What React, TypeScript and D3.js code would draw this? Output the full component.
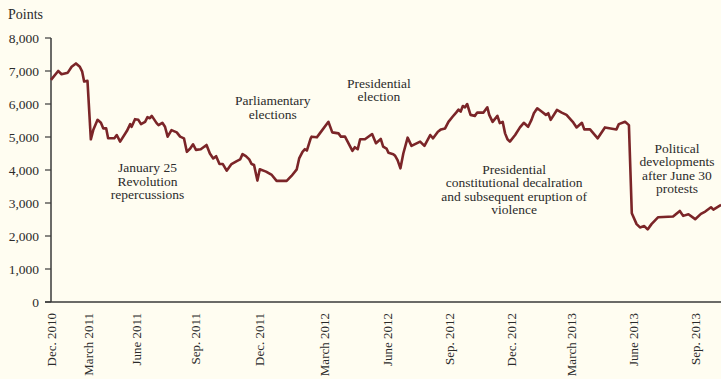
import React from "react";
import * as d3 from "d3";

// Weekly trading index (weeks since Dec. 2010, exchange closure removed) and EGX30 points
const weeks = [
  0, 1.5, 2.2, 3.5, 4.3, 5.2, 6.0, 6.5, 6.9, 7.6, 8.3, 8.8, 9.7, 10.4, 10.9, 11.5, 11.9, 13.2, 13.7, 14.4,
  15.8, 16.5, 16.8, 17.5, 18.2, 18.75, 19.6, 20.1, 20.6, 21.0, 22.0, 22.4, 23.2, 23.75, 24.3, 25.1, 26.2, 26.9,
  27.7, 28.3, 29.0, 29.6, 30.2, 31.2, 32.4, 33.1, 33.8, 34.4, 35.1, 35.8, 36.6, 37.6, 38.7, 39.4, 39.9, 40.6,
  41.3, 41.8, 42.3, 43.0, 43.5, 44.8, 46.0, 47.0, 49.1, 50.1, 51.2, 51.7, 52.4, 52.9, 53.3, 54.1, 54.3, 55.4,
  56.0, 57.8, 58.6, 59.9, 60.4, 61.25, 62.8, 63.3, 63.9, 64.4, 65.4, 66.9, 67.7, 68.7, 69.2, 69.9, 70.3, 71.3,
  71.7, 72.2, 72.8, 73.4, 74.3, 75.1, 76.9, 77.8, 79.0, 79.6, 80.6, 81.25, 82.1, 82.8, 83.7, 84.4, 84.9, 85.35,
  85.8, 86.25, 86.7, 87.4, 88.3, 88.8, 90.1, 90.9, 91.3, 92.0, 93.0, 93.5, 94.1, 94.6, 95.1, 95.6, 96.7, 97.7,
  98.5, 99.4, 100.1, 100.6, 101.3, 102.2, 103.1, 103.6, 104.1, 105.4, 106.4, 107.4, 108.7, 109.5, 110.6, 111.1,
  112.3, 113.9, 115.4, 117.8, 118.3, 119.6, 120.4, 121.0, 122.0, 122.7, 123.6, 124.3, 125.1, 126.5, 129.6, 131.0,
  131.7, 132.8, 134.2, 135.4, 136.3, 137.5, 138.0, 139.0, 139.6,
];
const points = [
  6730, 7000, 6900, 6950, 7130, 7230, 7130, 6980, 6680, 6700, 4930, 5210, 5520, 5430, 5260, 5260, 4960, 4960, 5060, 4860,
  5180, 5390, 5310, 5540, 5520, 5390, 5460, 5600, 5570, 5640, 5420, 5360, 5430, 5310, 5010, 5210, 5140, 5010,
  4960, 4550, 4650, 4780, 4610, 4630, 4760, 4500, 4350, 4420, 4180, 4180, 3980, 4180, 4270, 4320, 4480, 4420,
  4320, 4180, 4150, 3680, 4020, 3950, 3850, 3670, 3670, 3820, 4020, 4350, 4550, 4630, 4590, 4960, 5010, 4990,
  5110, 5460, 5140, 5110, 5010, 5010, 4580, 4690, 4630, 4930, 4930, 5090, 4810, 4940, 4710, 4650, 4520, 4480,
  4430, 4300, 4050, 4500, 4980, 4730, 4860, 4730, 5060, 4960, 5160, 5230, 5260, 5460, 5620, 5740, 5830, 5770,
  5940, 5900, 6000, 5670, 5640, 5740, 5740, 5900, 5670, 5460, 5640, 5420, 5460, 5110, 4930, 4860, 5060, 5290,
  5430, 5310, 5520, 5720, 5870, 5770, 5670, 5720, 5520, 5820, 5740, 5670, 5460, 5290, 5430, 5230,
  5230, 4960, 5290, 5230, 5390, 5460, 5360, 2690, 2360, 2260, 2300, 2200, 2360, 2570, 2590, 2760,
  2610, 2660, 2510, 2670, 2740, 2870, 2800, 2890, 2940,
];

const tickWeeks = [0, 7.7, 17.8, 30, 43.5, 56.9, 70, 83, 96, 108.5, 121.3, 134.2];
const tickLabels = [
  "Dec. 2010", "March 2011", "June 2011", "Sep. 2011", "Dec. 2011", "March 2012",
  "June 2012", "Sep. 2012", "Dec. 2012", "March 2013", "June 2013", "Sep. 2013",
];
const yTicks = [0, 1000, 2000, 3000, 4000, 5000, 6000, 7000, 8000];

const annotations = [
  { week: 20.1, value: 3930, lines: ["January 25", "Revolution", "repercussions"] },
  { week: 46.2, value: 5960, lines: ["Parliamentary", "elections"] },
  { week: 68.3, value: 6500, lines: ["Presidential", "election"] },
  { week: 96.5, value: 3880, lines: ["Presidential", "constitutional decalration", "and subsequent eruption of", "violence"] },
  { week: 130.4, value: 4520, lines: ["Political", "developments", "after June 30", "protests"] },
];

const W = 721;
const H = 379;
const FONT = "'Liberation Serif', 'DejaVu Serif', serif";

export default function App() {
  const x = d3.scaleLinear().domain([0, 140]).range([51, 723]);
  const y = d3.scaleLinear().domain([0, 8000]).range([302, 38]);
  const data = weeks.map((w, i) => [w, points[i]] as [number, number]);
  const line = d3
    .line<[number, number]>()
    .x((d) => x(d[0]))
    .y((d) => y(d[1]));
  const fmt = d3.format(",");
  const axisColor = "#3a3a3a";
  const textColor = "#2b2b2b";

  return (
    <div style={{ position: "absolute", left: 0, top: 0 }}>
      <svg width={W} height={H} style={{ display: "block" }} fontFamily={FONT}>
        <rect x={0} y={0} width={W} height={H} fill="#fffdf1" />
        <text x={8} y={19} fontSize={14} fill={textColor}>
          Points
        </text>
        {/* y axis */}
        <line x1={51} x2={51} y1={y(8000)} y2={y(0)} stroke={axisColor} strokeWidth={1.5} />
        {yTicks.map((t) => (
          <g key={t}>
            <line x1={45} x2={51} y1={y(t)} y2={y(t)} stroke={axisColor} strokeWidth={1.2} />
            <text x={39} y={y(t)} dy="0.35em" textAnchor="end" fontSize={13.5} fill={textColor}>
              {fmt(t)}
            </text>
          </g>
        ))}
        {/* x axis */}
        <line x1={45} x2={W} y1={y(0)} y2={y(0)} stroke={axisColor} strokeWidth={1.5} />
        {tickWeeks.map((w, i) => (
          <text
            key={tickLabels[i]}
            transform={`translate(${x(w)},${313}) rotate(-90)`}
            dy="0.35em"
            textAnchor="end"
            fontSize={13}
            fill={textColor}
          >
            {tickLabels[i]}
          </text>
        ))}
        <path d={line(data) || ""} fill="none" stroke="#7b2528" strokeWidth={2.6} strokeLinejoin="round" />
        {annotations.map((a, i) =>
          a.lines.map((l, j) => (
            <text
              key={`${i}-${j}`}
              x={x(a.week)}
              y={y(a.value) + j * 13.4}
              textAnchor="middle"
              fontSize={13.5}
              fill={textColor}
            >
              {l}
            </text>
          ))
        )}
      </svg>
    </div>
  );
}
